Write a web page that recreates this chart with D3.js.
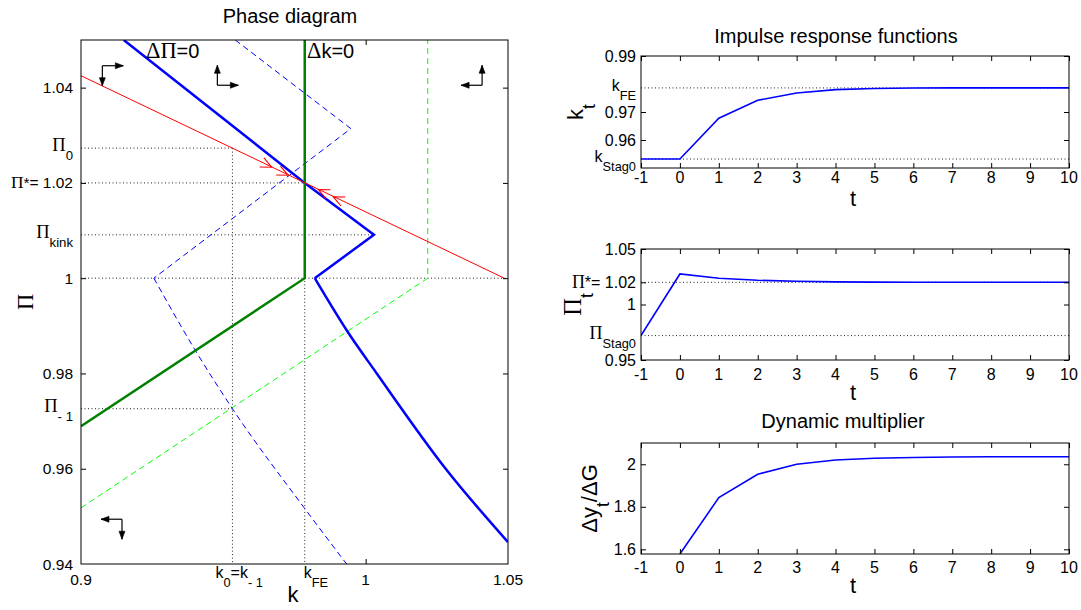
<!DOCTYPE html>
<html><head><meta charset="utf-8">
<script src="https://cdn.jsdelivr.net/npm/d3@7"></script>
<style>
body{margin:0;background:#fff}
text{font-family:"Liberation Sans",Arial,sans-serif;fill:#000}
</style>
</head><body>
<script>
// ---------------- data ----------------
// Phase diagram reference levels
const kFE = 0.9786, k0 = 0.9532;
const PiStar = 1.02, Pi0 = 1.0273, PiKink = 1.0091, PiM1 = 0.9726, kKink = 1.0029;
// Δk=0 locus (solid) and shifted locus (dashed)
const kNullSolid = [[0.9, 0.9689], [0.9786, 1.0], [0.9786, 1.05]];
const kNullShift = [[0.9, 0.9518], [1.0218, 1.0], [1.0218, 1.05]];
// ΔΠ=0 locus (solid), linear part and curved part
const piNullSolidLin = [[0.915, 1.05], [0.9786, 1.02], [1.0029, 1.0091], [0.9821, 1.0]];
const piNullSolidCurve = [[0.9821, 1.0], [0.9936, 0.9888], [1.0039, 0.98], [1.0281, 0.96], [1.05, 0.9446]];
// ΔΠ=0 locus shifted (dashed)
const piNullShiftLin = [[0.9542, 1.05], [0.9948, 1.0314], [0.9256, 1.0]];
const piNullShiftCurve = [[0.9256, 1.0], [0.9402, 0.9848], [0.9532, 0.9726], [0.9784, 0.9518], [0.9933, 0.94]];
// saddle path
const saddlePath = [[0.9, 1.0425], [1.0487, 1.0]];
// arrowheads on the saddle path: [k, Π, direction]
const saddleArrows = [[0.967, 1.0233, 1], [0.9728, 1.0216, 1], [0.9834, 1.0186, -1], [0.9886, 1.0171, -1]];
// direction-of-motion arrows: [k, Π, horizontal dir, vertical dir]
const dirArrows = [[0.9075, 1.0446, 1, -1], [0.9479, 1.0405, 1, 1], [1.0409, 1.0405, -1, 1], [0.9144, 0.9494, -1, -1]];
const phaseYTicks = [0.96, 0.98, 1.0, 1.02, 1.04];
const phaseXTicks = [1.0];

// Impulse responses
const tAxis = [-1, 0, 1, 2, 3, 4, 5, 6, 7, 8, 9, 10];
const kPath = [0.9532, 0.9532, 0.9678, 0.9742, 0.9768, 0.9780, 0.9784, 0.97855, 0.9786, 0.9786, 0.9786, 0.9786];
const piPath = [0.9720, 1.0275, 1.0236, 1.0218, 1.0209, 1.0204, 1.0202, 1.0201, 1.0200, 1.0200, 1.0200, 1.0200];
const tMult = [0, 1, 2, 3, 4, 5, 6, 7, 8, 9, 10];
const multPath = [1.578, 1.843, 1.953, 2.000, 2.020, 2.028, 2.032, 2.034, 2.035, 2.035, 2.035];
const kStag0 = 0.9532, PiStag0 = 0.9720;
const irfXTicks = [-1, 0, 1, 2, 3, 4, 5, 6, 7, 8, 9, 10];
const kYTicks = [0.96, 0.97, 0.99];
const piYTicks = [0.95, 1.0, 1.02, 1.05];
const multYTicks = [1.6, 1.8, 2.0];

// ---------------- drawing ----------------
const W = 1081, H = 610;
const svg = d3.select("body").append("svg").attr("width", W).attr("height", H);
const SERIF = "'Liberation Serif','Times New Roman',serif";

function rich(sel, x, y, parts, size, anchor, rotate) {
  const t = sel.append("text").attr("x", x).attr("y", y)
    .attr("text-anchor", anchor).style("font-size", size + "px");
  if (rotate) t.attr("transform", `rotate(-90,${x},${y})`);
  let shift = 0;
  parts.forEach(([s, kind]) => {
    const sp = t.append("tspan").text(s);
    const target = kind === "sub" ? Math.round(size * 0.55) : 0;
    if (target - shift !== 0) sp.attr("dy", target - shift);
    shift = target;
    if (kind === "sub") sp.style("font-size", (size * 0.8) + "px");
    if (kind === "s") sp.style("font-family", SERIF).style("font-size", (size * 1.12) + "px");
  });
  return t;
}

function frame(g, x0, x1, y0, y1) {
  g.append("rect").attr("x", x0).attr("y", y0).attr("width", x1 - x0).attr("height", y1 - y0)
    .attr("fill", "none").attr("stroke", "#000").attr("stroke-width", 1);
}
function ticksY(g, sy, vals, x0, x1) {
  g.append("g").attr("transform", `translate(${x0},0)`)
    .call(d3.axisLeft(sy).tickValues(vals).tickSize(-5).tickSizeOuter(0).tickFormat(""))
    .call(a => a.select(".domain").remove());
  g.append("g").attr("transform", `translate(${x1},0)`)
    .call(d3.axisRight(sy).tickValues(vals).tickSize(-5).tickSizeOuter(0).tickFormat(""))
    .call(a => a.select(".domain").remove());
}
function ticksX(g, sx, vals, y0, y1) {
  g.append("g").attr("transform", `translate(0,${y1})`)
    .call(d3.axisBottom(sx).tickValues(vals).tickSize(-5).tickSizeOuter(0).tickFormat(""))
    .call(a => a.select(".domain").remove());
  g.append("g").attr("transform", `translate(0,${y0})`)
    .call(d3.axisTop(sx).tickValues(vals).tickSize(-5).tickSizeOuter(0).tickFormat(""))
    .call(a => a.select(".domain").remove());
}

// ===== Phase diagram =====
const L = {x0: 81, x1: 508, y0: 40, y1: 564};
const sx = d3.scaleLinear().domain([0.9, 1.05]).range([L.x0, L.x1]);
const sy = d3.scaleLinear().domain([0.94, 1.05]).range([L.y1, L.y0]);
const gp = svg.append("g");
svg.append("clipPath").attr("id", "clipL").append("rect")
  .attr("x", L.x0).attr("y", L.y0).attr("width", L.x1 - L.x0).attr("height", L.y1 - L.y0);
const plot = gp.append("g").attr("clip-path", "url(#clipL)");
const lineLin = d3.line().x(d => sx(d[0])).y(d => sy(d[1]));
const lineCurve = d3.line().x(d => sx(d[0])).y(d => sy(d[1])).curve(d3.curveMonotoneX);

// dotted guides
const dot = {stroke: "#222", "stroke-width": 1, "stroke-dasharray": "1,2.5"};
function guide(x1, y1, x2, y2) {
  const l = plot.append("line").attr("x1", x1).attr("y1", y1).attr("x2", x2).attr("y2", y2);
  Object.entries(dot).forEach(([k, v]) => l.attr(k, v));
}
guide(sx(0.9), sy(Pi0), sx(k0), sy(Pi0));
guide(sx(k0), sy(Pi0), sx(k0), sy(0.94));
guide(sx(0.9), sy(PiStar), sx(kFE), sy(PiStar));
guide(sx(kFE), sy(PiStar), sx(kFE), sy(0.94));
guide(sx(0.9), sy(PiKink), sx(kKink), sy(PiKink));
guide(sx(0.9), sy(1.0), sx(1.05), sy(1.0));
guide(sx(0.9), sy(PiM1), sx(k0), sy(PiM1));

// shifted loci (dashed)
plot.append("path").attr("d", lineLin(kNullShift)).attr("fill", "none")
  .attr("stroke", "#00ff00").attr("stroke-width", 1).attr("stroke-dasharray", "6,4");
plot.append("path").attr("d", lineLin(piNullShiftLin)).attr("fill", "none")
  .attr("stroke", "#0000ff").attr("stroke-width", 1).attr("stroke-dasharray", "6,4");
plot.append("path").attr("d", lineCurve(piNullShiftCurve)).attr("fill", "none")
  .attr("stroke", "#0000ff").attr("stroke-width", 1).attr("stroke-dasharray", "6,4");
// solid loci
plot.append("path").attr("d", lineLin(piNullSolidLin)).attr("fill", "none")
  .attr("stroke", "#0000ff").attr("stroke-width", 2.5).attr("stroke-linejoin", "miter");
plot.append("path").attr("d", lineCurve(piNullSolidCurve)).attr("fill", "none")
  .attr("stroke", "#0000ff").attr("stroke-width", 2.5);
plot.append("path").attr("d", lineLin(kNullSolid)).attr("fill", "none")
  .attr("stroke", "#008000").attr("stroke-width", 2.5);
// saddle path
plot.append("path").attr("d", lineLin(saddlePath)).attr("fill", "none")
  .attr("stroke", "#ff0000").attr("stroke-width", 1);
// arrowheads on saddle path
{
  const ax = sx(saddlePath[1][0]) - sx(saddlePath[0][0]);
  const ay = sy(saddlePath[1][1]) - sy(saddlePath[0][1]);
  const len = Math.hypot(ax, ay), ux = ax / len, uy = ay / len;
  saddleArrows.forEach(([k, p, d]) => {
    const tx = sx(k), ty = sy(p), vx = ux * d, vy = uy * d;
    const bx = tx - vx * 11, by = ty - vy * 11;
    const nx = -vy * 5, ny = vx * 5;
    plot.append("path")
      .attr("d", `M${bx + nx},${by + ny}L${tx},${ty}L${bx - nx},${by - ny}`)
      .attr("fill", "none").attr("stroke", "#ff0000").attr("stroke-width", 1.1);
  });
}
// direction arrows
function arrow(g, x1, y1, x2, y2) {
  g.append("line").attr("x1", x1).attr("y1", y1).attr("x2", x2).attr("y2", y2)
    .attr("stroke", "#000").attr("stroke-width", 1.2);
  const dx = x2 - x1, dy = y2 - y1, l = Math.hypot(dx, dy), ux = dx / l, uy = dy / l;
  const bx = x2 - ux * 8, by = y2 - uy * 8, nx = -uy * 3, ny = ux * 3;
  g.append("path").attr("d", `M${x2},${y2}L${bx + nx},${by + ny}L${bx - nx},${by - ny}Z`)
    .attr("fill", "#000").attr("stroke", "#000").attr("stroke-width", 0.6);
}
dirArrows.forEach(([k, p, h, v]) => {
  const cx = sx(k), cy = sy(p);
  arrow(plot, cx, cy, cx + h * 21, cy);
  arrow(plot, cx, cy, cx, cy - v * 20);
});

frame(gp, L.x0, L.x1, L.y0, L.y1);
ticksY(gp, sy, phaseYTicks, L.x0, L.x1);
ticksX(gp, sx, phaseXTicks, L.y0, L.y1);

// locus labels
rich(gp, 146, 58, [["Δ", "s"], ["Π", "s"], ["=0"]], 20, "start");
rich(gp, 307, 58, [["Δ", "s"], ["k=0"]], 20, "start");

// y tick labels
const FL = 15.5;
const phaseYLabels = [
  [1.04, [["1.04"]]], [Pi0, [["Π", "s"], ["0", "sub"]]], [PiStar, [["Π", "s"], ["*= 1.02"]]],
  [PiKink, [["Π", "s"], ["kink", "sub"]]], [1.0, [["1"]]], [0.98, [["0.98"]]],
  [PiM1, [["Π", "s"], ["- 1", "sub"]]], [0.96, [["0.96"]]], [0.94, [["0.94"]]]
];
phaseYLabels.forEach(([v, parts]) => {
  const sub = parts.some(p => p[1] === "sub");
  rich(gp, 73, sy(v) + (sub ? 3 : 5.5), parts, sub ? 16.5 : FL, "end");
});
// x tick labels
rich(gp, sx(0.9), 585, [["0.9"]], FL, "middle");
rich(gp, sx(1.0), 585, [["1"]], FL, "middle");
rich(gp, sx(1.05), 585, [["1.05"]], FL, "middle");
rich(gp, sx(k0) - 17, 578, [["k"], ["0", "sub"], ["=k"], ["- 1", "sub"]], 16, "start");
rich(gp, sx(kFE) - 1, 578, [["k"], ["FE", "sub"]], 16, "start");
// axis labels & title
rich(gp, 293, 602, [["k"]], 22, "middle");
rich(gp, 33, 302, [["Π", "s"]], 20, "middle", true);
rich(gp, 290, 23, [["Phase diagram"]], 20, "middle");

// ===== Right panels =====
const R = {x0: 641, x1: 1069};
const tx = d3.scaleLinear().domain([-1, 10]).range([R.x0, R.x1]);
const panels = [
  {y0: 56, y1: 168, dom: [0.95, 0.99], xs: tAxis, ys: kPath, yt: kYTicks, guides: [kFE, kStag0],
   labels: [[0.99, [["0.99"]]], [kFE, [["k"], ["FE", "sub"]]], [0.97, [["0.97"]]], [0.96, [["0.96"]]], [kStag0, [["k"], ["Stag0", "sub"]]]],
   ylab: [["k"], ["t", "sub"]], ylx: 583, tickBase: 183, tBase: 206},
  {y0: 249, y1: 360, dom: [0.95, 1.05], xs: tAxis, ys: piPath, yt: piYTicks, guides: [PiStar, PiStag0],
   labels: [[1.05, [["1.05"]]], [PiStar, [["Π", "s"], ["*= 1.02"]]], [1.0, [["1"]]], [PiStag0, [["Π", "s"], ["Stag0", "sub"]]], [0.95, [["0.95"]]]],
   ylab: [["Π", "s"], ["t", "sub"]], ylx: 581, tickBase: 380, tBase: 400},
  {y0: 443, y1: 554, dom: [1.578, 2.1], xs: tMult, ys: multPath, yt: multYTicks, guides: [],
   labels: [[2.0, [["2"]]], [1.8, [["1.8"]]], [1.6, [["1.6"]]]],
   ylab: [["Δy"], ["t", "sub"], ["/ΔG"]], ylx: 597, tickBase: 573, tBase: 593}
];
panels.forEach((P, i) => {
  const g = svg.append("g");
  const ys = d3.scaleLinear().domain(P.dom).range([P.y1, P.y0]);
  const cid = "clipR" + i;
  svg.append("clipPath").attr("id", cid).append("rect")
    .attr("x", R.x0).attr("y", P.y0).attr("width", R.x1 - R.x0).attr("height", P.y1 - P.y0);
  const pg = g.append("g").attr("clip-path", `url(#${cid})`);
  P.guides.forEach(v => {
    const l = pg.append("line").attr("x1", R.x0).attr("x2", R.x1).attr("y1", ys(v)).attr("y2", ys(v));
    Object.entries(dot).forEach(([k, vv]) => l.attr(k, vv));
  });
  const data = P.xs.map((t, j) => [t, P.ys[j]]);
  pg.append("path").attr("d", d3.line().x(d => tx(d[0])).y(d => ys(d[1]))(data))
    .attr("fill", "none").attr("stroke", "#0000ff").attr("stroke-width", 1.6);
  frame(g, R.x0, R.x1, P.y0, P.y1);
  ticksY(g, ys, P.yt, R.x0, R.x1);
  ticksX(g, tx, irfXTicks, P.y0, P.y1);
  P.labels.forEach(([v, parts]) => {
    const sub = parts.some(p => p[1] === "sub");
    rich(g, 636, ys(v) + (sub ? 3 : 5.5), parts, 16, "end");
  });
  irfXTicks.forEach(t => rich(g, tx(t), P.tickBase, [[String(t)]], 16, "middle"));
  rich(g, 853, P.tBase, [["t"]], 22, "middle");
  rich(g, P.ylx, (P.y0 + P.y1) / 2, P.ylab, 22, "middle", true);
});
rich(svg, 836, 43, [["Impulse response functions"]], 20, "middle");
rich(svg, 843, 428, [["Dynamic multiplier"]], 20, "middle");
</script>
</body></html>
